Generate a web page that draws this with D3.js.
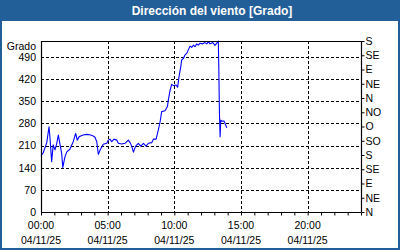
<!DOCTYPE html>
<html>
<head>
<meta charset="utf-8">
<script src="https://cdn.jsdelivr.net/npm/d3@7"></script>
<style>
  body { margin: 0; }
  svg { display: block; font-family: "Liberation Sans", Arial, sans-serif; }
</style>
</head>
<body>
<script>
// minutes since 00:00 on 04/11/25
var minutes = [0,10,26,36,40,48,55,63,71,78,86,93,98,108,116,130,145,156,163,172,179,189,206,220,235,243,251,258,266,280,
  296,303,311,318,329,341,348,363,378,393,401,408,416,426,438,449,461,473,483,498,506,518,528,536,543,558,569,573,581,588,
  596,608,615,621,629,633,641,648,656,663,671,678,686,693,701,708,716,728,738,746,753,761,773,783,791,798,800,803,806,809,
  813,824,836];
var grado = [177,187,219,269,238,159,212,196,217,243,212,185,141,175,190,198,222,248,227,238,240,243,245,244,240,236,222,182,196,214,
  217,227,230,222,230,227,217,215,217,227,219,208,189,208,217,208,217,208,217,219,230,230,259,285,317,320,333,354,385,403,
  399,401,394,427,459,480,485,496,501,512,524,520,527,522,531,527,533,531,535,531,538,531,535,526,533,540,461,313,238,290,
  287,287,266];

var yTicks = [0,70,140,210,280,350,420,490];
var dirLabels = ["N","NE","E","SE","S","SO","O","NO","N","NE","E","SE","S"];
var xTickHours = [0,5,10,15,20];
var fecha = "04/11/25";
var titulo = "Dirección del viento [Grado]";

var width = 400, height = 250;
var margin = {left:41, right:39, top:41, bottom:38};

var svg = d3.select("body").append("svg").attr("width",width).attr("height",height);

// frame + title bar
svg.append("rect").attr("width",width).attr("height",height).attr("fill","#225e98");
svg.append("rect").attr("x",2).attr("y",21).attr("width",width-4).attr("height",height-23).attr("fill","#ffffff");
svg.append("text").attr("x",212).attr("y",14.5).attr("text-anchor","middle")
  .attr("fill","#ffffff").attr("font-weight","bold").attr("font-size","12px").text(titulo);

var x = d3.scaleLinear().domain([0,24*60]).range([margin.left, width-margin.right]);
var y = d3.scaleLinear().domain([0,540]).range([height-margin.bottom, margin.top]);

var x0 = x.range()[0], x1 = x.range()[1], y0 = y.range()[0], y1 = y.range()[1];

// grid
var grid = svg.append("g").attr("stroke","#000").attr("stroke-dasharray","3,2").attr("stroke-width",1);
grid.selectAll("line.h").data(yTicks.filter(function(d){ return d > 0; })).enter().append("line")
  .attr("x1",x0).attr("x2",x1)
  .attr("y1",function(d){ return Math.round(y(d))+0.5; }).attr("y2",function(d){ return Math.round(y(d))+0.5; });
grid.selectAll("line.v").data(xTickHours.filter(function(d){ return d > 0; })).enter().append("line")
  .attr("y1",y1).attr("y2",y0)
  .attr("x1",function(d){ return Math.round(x(d*60))+0.5; }).attr("x2",function(d){ return Math.round(x(d*60))+0.5; });

// data line
var line = d3.line()
  .x(function(d,i){ return x(minutes[i]); })
  .y(function(d){ return y(d); });
svg.append("path").attr("fill","none").attr("stroke","#0000ff").attr("stroke-width",1.1)
  .attr("stroke-linejoin","round").attr("d",line(grado));

// frame lines
var fr = svg.append("g").attr("stroke","#000").attr("stroke-width",1.2);
fr.append("line").attr("x1",x0).attr("x2",x1).attr("y1",y1+0.5).attr("y2",y1+0.5);
fr.append("line").attr("x1",x0).attr("x2",x1).attr("y1",y0+0.5).attr("y2",y0+0.5);
fr.append("line").attr("x1",x0+0.5).attr("x2",x0+0.5).attr("y1",y1).attr("y2",y0);
fr.append("line").attr("x1",x1+0.5).attr("x2",x1+0.5).attr("y1",y1).attr("y2",y0);

// left axis labels
var yAxis = d3.axisLeft(y).tickValues(yTicks).tickSize(0).tickPadding(5);
var gy = svg.append("g").attr("transform","translate("+x0+",0)").call(yAxis);
gy.select(".domain").remove();
gy.selectAll("text").attr("font-size","10.5px").attr("fill","#000").attr("font-family","Liberation Sans, Arial, sans-serif");
svg.append("text").attr("x",36).attr("y",y(540)+9).attr("text-anchor","end")
  .attr("font-size","10.5px").text("Grado");

// right axis (compass)
var yDir = d3.scaleLinear().domain([0,540]).range(y.range());
var rAxis = d3.axisRight(yDir).tickValues(d3.range(0,541,45)).tickSize(3).tickPadding(1)
  .tickFormat(function(d,i){ return dirLabels[i]; });
var gr = svg.append("g").attr("transform","translate("+(x1+0.5)+",0)").call(rAxis);
gr.select(".domain").remove();
gr.selectAll("text").attr("font-size","10.5px").attr("fill","#000").attr("font-family","Liberation Sans, Arial, sans-serif");

// bottom axis
var xAxis = d3.axisBottom(x).tickValues(d3.range(0,24*60+1,60)).tickSize(3).tickFormat("");
var gx = svg.append("g").attr("transform","translate(0,"+(y0+0.5)+")").call(xAxis);
gx.select(".domain").remove();

var lab = svg.append("g").attr("font-size","10.5px").attr("text-anchor","middle");
lab.selectAll("text.t").data(xTickHours).enter().append("text")
  .attr("x",function(d){ return x(d*60); }).attr("y",229)
  .text(function(d){ return (d<10?"0":"")+d+":00"; });
lab.selectAll("text.d").data(xTickHours).enter().append("text")
  .attr("x",function(d){ return x(d*60); }).attr("y",244)
  .text(fecha);
</script>
</body>
</html>
